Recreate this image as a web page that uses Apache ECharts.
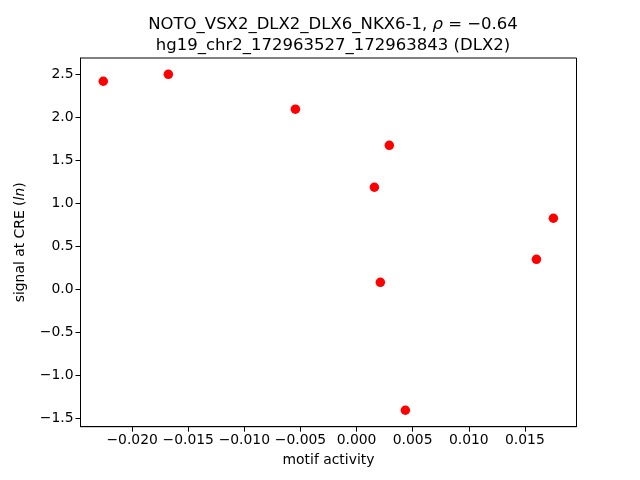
<!DOCTYPE html>
<html>
<head>
<meta charset="utf-8">
<script src="https://cdn.jsdelivr.net/npm/echarts@6/dist/echarts.min.js"></script>
<style>
html,body{margin:0;padding:0;background:#fff;}
#chart{width:640px;height:480px;}
</style>
</head>
<body>
<div id="chart"></div>
<script>
const motifActivity = [-0.02257, -0.01677, -0.00545, 0.00292, 0.00159, 0.01754, 0.01603, 0.00212, 0.00435];
const signalAtCRE = [2.416, 2.497, 2.091, 1.672, 1.185, 0.825, 0.348, 0.081, -1.405];
const xTicks = [-0.020, -0.015, -0.010, -0.005, 0.000, 0.005, 0.010, 0.015];
const yTicks = [-1.5, -1.0, -0.5, 0.0, 0.5, 1.0, 1.5, 2.0, 2.5];
const titleLine1 = 'NOTO_VSX2_DLX2_DLX6_NKX6-1, ';
const rhoText = '= \u22120.64';
const titleLine2 = 'hg19_chr2_172963527_172963843 (DLX2)';
const xName = 'motif activity';

const font = 'DejaVu Sans';
function fmt(v, d) {
  const s = Math.abs(v).toFixed(d);
  return (v < -1e-12 ? '\u2212' : '') + s;
}
const points = motifActivity.map((x, i) => [x, signalAtCRE[i]]);

const chart = echarts.init(document.getElementById('chart'), null, {renderer: 'canvas'});
chart.setOption({
  animation: false,
  backgroundColor: '#ffffff',
  title: {
    left: 328,
    top: 9,
    textAlign: 'center',
    text: '{n|' + titleLine1 + '}{i|\u03c1 }{n|' + rhoText + '}\n{n|' + titleLine2 + '}',
    textStyle: {
      fontWeight: 'normal',
      rich: {
        n: {fontFamily: font, fontSize: 16.5, fontWeight: 'normal', color: '#000', lineHeight: 21},
        i: {fontFamily: font, fontSize: 16.5, fontWeight: 'normal', fontStyle: 'italic', color: '#000', lineHeight: 21}
      }
    }
  },
  grid: {left: 80.5, right: 63.5, top: 58, bottom: 53.3, show: true, borderColor: '#000', borderWidth: 1, backgroundColor: 'transparent'},
  xAxis: {
    type: 'value',
    min: -0.0246,
    max: 0.0196,
    name: xName,
    nameLocation: 'middle',
    nameGap: 27,
    nameTextStyle: {fontFamily: font, fontSize: 13.9, color: '#000'},
    splitLine: {show: false},
    axisLine: {show: true, onZero: false, lineStyle: {color: '#000', width: 1}},
    axisTick: {show: true, length: 5, lineStyle: {color: '#000'}, customValues: xTicks},
    axisLabel: {
      fontFamily: font, fontSize: 13.9, color: '#000', margin: 7,
      customValues: xTicks,
      formatter: v => fmt(v, 3)
    }
  },
  yAxis: {
    type: 'value',
    min: -1.596,
    max: 2.686,
    name: '{n|signal at CRE (}{i|ln}{n|)}',
    nameLocation: 'middle',
    nameGap: 53,
    nameRotate: 90,
    nameTextStyle: {
      fontFamily: font, fontSize: 13.9, color: '#000',
      rich: {
        n: {fontFamily: font, fontSize: 13.9, color: '#000'},
        i: {fontFamily: font, fontSize: 13.9, color: '#000', fontStyle: 'italic'}
      }
    },
    splitLine: {show: false},
    axisLine: {show: true, onZero: false, lineStyle: {color: '#000', width: 1}},
    axisTick: {show: true, length: 5, lineStyle: {color: '#000'}, customValues: yTicks},
    axisLabel: {
      fontFamily: font, fontSize: 13.9, color: '#000', margin: 7,
      customValues: yTicks,
      formatter: v => fmt(v, 1)
    }
  },
  series: [{
    type: 'scatter',
    data: points,
    symbol: 'circle',
    symbolSize: 9.5,
    itemStyle: {color: '#ff0000', opacity: 1},
    emphasis: {disabled: true}
  }]
});
</script>
</body>
</html>
